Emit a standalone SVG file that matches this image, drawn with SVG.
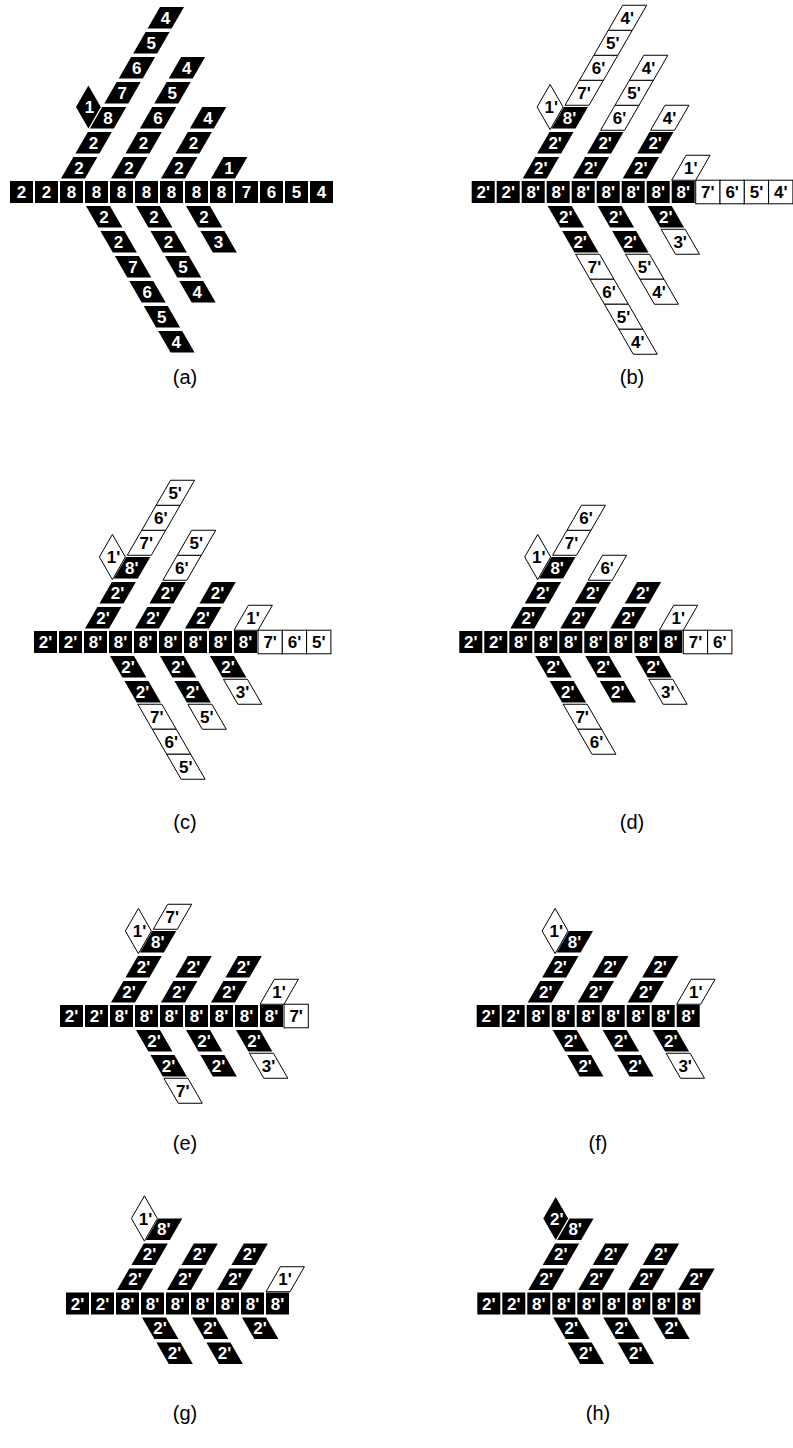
<svg xmlns="http://www.w3.org/2000/svg" width="793" height="1448" viewBox="0 0 793 1448">
<style>
text { font-family: "Liberation Sans", Arial, sans-serif; font-weight: bold; font-size: 17px; text-anchor: middle; }
.k use { fill: #000; }
.k text { fill: #fff; }
.w use { fill: #fff; stroke: #000; stroke-width: 1; }
.w text { fill: #000; }
.lbl { font-weight: normal; font-size: 20px; fill: #000; }
</style>
<defs>
  <!-- cells of the main row -->
  <rect id="sq" x="0" y="-11" width="23" height="22"/>
  <rect id="wsq" x="0" y="-11.8" width="24.3" height="23.6"/>
  <!-- branch cells: u = rising branch (anchor bottom-left), l = falling branch (anchor top-left) -->
  <polygon id="ub" points="0,0 24,0 36.4,-21.5 12.4,-21.5"/>
  <polygon id="uw" points="-1,1.75 23,1.75 37.4,-23.25 13.4,-23.25"/>
  <polygon id="lb" points="0,0 24,0 36.4,21.5 12.4,21.5"/>
  <polygon id="lw" points="-1,-1.75 23,-1.75 37.4,23.25 13.4,23.25"/>
  <!-- side diamond next to the third cell of the first rising branch -->
  <polygon id="db" points="78.4,-106.5 90.8,-85 78.4,-63.5 66,-85"/>
  <polygon id="dw" points="78.4,-107.6 91.4,-85 78.4,-62.4 65.4,-85"/>
</defs>

<!-- ===================== (a) ===================== -->
<g id="panel-a" transform="translate(10,192)">
  <g id="a-row">
    <g id="a-s0" class="k"><use href="#sq"/><text x="11.5" y="6.1">2</text></g>
    <g id="a-s1" class="k" transform="translate(25,0)"><use href="#sq"/><text x="11.5" y="6.1">2</text></g>
    <g id="a-s2" class="k" transform="translate(50,0)"><use href="#sq"/><text x="11.5" y="6.1">8</text></g>
    <g id="a-s3" class="k" transform="translate(75,0)"><use href="#sq"/><text x="11.5" y="6.1">8</text></g>
    <g id="a-s4" class="k" transform="translate(100,0)"><use href="#sq"/><text x="11.5" y="6.1">8</text></g>
    <g id="a-s5" class="k" transform="translate(125,0)"><use href="#sq"/><text x="11.5" y="6.1">8</text></g>
    <g id="a-s6" class="k" transform="translate(150,0)"><use href="#sq"/><text x="11.5" y="6.1">8</text></g>
    <g id="a-s7" class="k" transform="translate(175,0)"><use href="#sq"/><text x="11.5" y="6.1">8</text></g>
    <g id="a-s8" class="k" transform="translate(200,0)"><use href="#sq"/><text x="11.5" y="6.1">8</text></g>
    <g id="a-s9" class="k" transform="translate(225,0)"><use href="#sq"/><text x="11.5" y="6.1">7</text></g>
    <g id="a-s10" class="k" transform="translate(250,0)"><use href="#sq"/><text x="11.5" y="6.1">6</text></g>
    <g id="a-s11" class="k" transform="translate(275,0)"><use href="#sq"/><text x="11.5" y="6.1">5</text></g>
    <g id="a-s12" class="k" transform="translate(300,0)"><use href="#sq"/><text x="11.5" y="6.1">4</text></g>
  </g>
  <g id="a-u2" transform="translate(51,-13.5)">
    <g id="a-u2-0" class="k"><use href="#ub"/><text x="18" y="-4.65">2</text></g>
    <g id="a-u2-1" class="k" transform="translate(14.43,-25)"><use href="#ub"/><text x="18" y="-4.65">2</text></g>
    <g id="a-u2-2" class="k" transform="translate(28.87,-50)"><use href="#ub"/><text x="18" y="-4.65">8</text></g>
    <g id="a-u2-3" class="k" transform="translate(43.3,-75)"><use href="#ub"/><text x="18" y="-4.65">7</text></g>
    <g id="a-u2-4" class="k" transform="translate(57.74,-100)"><use href="#ub"/><text x="18" y="-4.65">6</text></g>
    <g id="a-u2-5" class="k" transform="translate(72.17,-125)"><use href="#ub"/><text x="18" y="-4.65">5</text></g>
    <g id="a-u2-6" class="k" transform="translate(86.6,-150)"><use href="#ub"/><text x="18" y="-4.65">4</text></g>
  </g>
  <g id="a-u4" transform="translate(101,-13.5)">
    <g id="a-u4-0" class="k"><use href="#ub"/><text x="18" y="-4.65">2</text></g>
    <g id="a-u4-1" class="k" transform="translate(14.43,-25)"><use href="#ub"/><text x="18" y="-4.65">2</text></g>
    <g id="a-u4-2" class="k" transform="translate(28.87,-50)"><use href="#ub"/><text x="18" y="-4.65">6</text></g>
    <g id="a-u4-3" class="k" transform="translate(43.3,-75)"><use href="#ub"/><text x="18" y="-4.65">5</text></g>
    <g id="a-u4-4" class="k" transform="translate(57.74,-100)"><use href="#ub"/><text x="18" y="-4.65">4</text></g>
  </g>
  <g id="a-u6" transform="translate(151,-13.5)">
    <g id="a-u6-0" class="k"><use href="#ub"/><text x="18" y="-4.65">2</text></g>
    <g id="a-u6-1" class="k" transform="translate(14.43,-25)"><use href="#ub"/><text x="18" y="-4.65">2</text></g>
    <g id="a-u6-2" class="k" transform="translate(28.87,-50)"><use href="#ub"/><text x="18" y="-4.65">4</text></g>
  </g>
  <g id="a-u8" transform="translate(201,-13.5)">
    <g id="a-u8-0" class="k"><use href="#ub"/><text x="18" y="-4.65">1</text></g>
  </g>
  <g id="a-l3" transform="translate(76,14)">
    <g id="a-l3-0" class="k"><use href="#lb"/><text x="18" y="16.85">2</text></g>
    <g id="a-l3-1" class="k" transform="translate(14.43,25)"><use href="#lb"/><text x="18" y="16.85">2</text></g>
    <g id="a-l3-2" class="k" transform="translate(28.87,50)"><use href="#lb"/><text x="18" y="16.85">7</text></g>
    <g id="a-l3-3" class="k" transform="translate(43.3,75)"><use href="#lb"/><text x="18" y="16.85">6</text></g>
    <g id="a-l3-4" class="k" transform="translate(57.74,100)"><use href="#lb"/><text x="18" y="16.85">5</text></g>
    <g id="a-l3-5" class="k" transform="translate(72.17,125)"><use href="#lb"/><text x="18" y="16.85">4</text></g>
  </g>
  <g id="a-l5" transform="translate(126,14)">
    <g id="a-l5-0" class="k"><use href="#lb"/><text x="18" y="16.85">2</text></g>
    <g id="a-l5-1" class="k" transform="translate(14.43,25)"><use href="#lb"/><text x="18" y="16.85">2</text></g>
    <g id="a-l5-2" class="k" transform="translate(28.87,50)"><use href="#lb"/><text x="18" y="16.85">5</text></g>
    <g id="a-l5-3" class="k" transform="translate(43.3,75)"><use href="#lb"/><text x="18" y="16.85">4</text></g>
  </g>
  <g id="a-l7" transform="translate(176,14)">
    <g id="a-l7-0" class="k"><use href="#lb"/><text x="18" y="16.85">2</text></g>
    <g id="a-l7-1" class="k" transform="translate(14.43,25)"><use href="#lb"/><text x="18" y="16.85">3</text></g>
  </g>
  <g id="a-d" class="k"><use href="#db"/><text x="79.5" y="-78.9">1</text></g>
</g>
<text class="lbl" x="185" y="384">(a)</text>

<!-- ===================== (b) ===================== -->
<g id="panel-b" transform="translate(471.7,192)">
  <g id="b-row">
    <g id="b-s0" class="k"><use href="#sq"/><text x="11.5" y="6.1">2'</text></g>
    <g id="b-s1" class="k" transform="translate(25,0)"><use href="#sq"/><text x="11.5" y="6.1">2'</text></g>
    <g id="b-s2" class="k" transform="translate(50,0)"><use href="#sq"/><text x="11.5" y="6.1">8'</text></g>
    <g id="b-s3" class="k" transform="translate(75,0)"><use href="#sq"/><text x="11.5" y="6.1">8'</text></g>
    <g id="b-s4" class="k" transform="translate(100,0)"><use href="#sq"/><text x="11.5" y="6.1">8'</text></g>
    <g id="b-s5" class="k" transform="translate(125,0)"><use href="#sq"/><text x="11.5" y="6.1">8'</text></g>
    <g id="b-s6" class="k" transform="translate(150,0)"><use href="#sq"/><text x="11.5" y="6.1">8'</text></g>
    <g id="b-s7" class="k" transform="translate(175,0)"><use href="#sq"/><text x="11.5" y="6.1">8'</text></g>
    <g id="b-s8" class="k" transform="translate(200,0)"><use href="#sq"/><text x="11.5" y="6.1">8'</text></g>
    <g id="b-s9" class="w" transform="translate(224,0)"><use href="#wsq"/><text x="12.15" y="6.1">7'</text></g>
    <g id="b-s10" class="w" transform="translate(248.3,0)"><use href="#wsq"/><text x="12.15" y="6.1">6'</text></g>
    <g id="b-s11" class="w" transform="translate(272.6,0)"><use href="#wsq"/><text x="12.15" y="6.1">5'</text></g>
    <g id="b-s12" class="w" transform="translate(296.9,0)"><use href="#wsq"/><text x="12.15" y="6.1">4'</text></g>
  </g>
  <g id="b-u2" transform="translate(51,-13.5)">
    <g id="b-u2-0" class="k"><use href="#ub"/><text x="18" y="-4.65">2'</text></g>
    <g id="b-u2-1" class="k" transform="translate(14.43,-25)"><use href="#ub"/><text x="18" y="-4.65">2'</text></g>
    <g id="b-u2-2" class="k" transform="translate(28.87,-50)"><use href="#ub"/><text x="18" y="-4.65">8'</text></g>
    <g id="b-u2-3" class="w" transform="translate(43.3,-75)"><use href="#uw"/><text x="18" y="-4.65">7'</text></g>
    <g id="b-u2-4" class="w" transform="translate(57.74,-100)"><use href="#uw"/><text x="18" y="-4.65">6'</text></g>
    <g id="b-u2-5" class="w" transform="translate(72.17,-125)"><use href="#uw"/><text x="18" y="-4.65">5'</text></g>
    <g id="b-u2-6" class="w" transform="translate(86.6,-150)"><use href="#uw"/><text x="18" y="-4.65">4'</text></g>
  </g>
  <g id="b-u4" transform="translate(101,-13.5)">
    <g id="b-u4-0" class="k"><use href="#ub"/><text x="18" y="-4.65">2'</text></g>
    <g id="b-u4-1" class="k" transform="translate(14.43,-25)"><use href="#ub"/><text x="18" y="-4.65">2'</text></g>
    <g id="b-u4-2" class="w" transform="translate(28.87,-50)"><use href="#uw"/><text x="18" y="-4.65">6'</text></g>
    <g id="b-u4-3" class="w" transform="translate(43.3,-75)"><use href="#uw"/><text x="18" y="-4.65">5'</text></g>
    <g id="b-u4-4" class="w" transform="translate(57.74,-100)"><use href="#uw"/><text x="18" y="-4.65">4'</text></g>
  </g>
  <g id="b-u6" transform="translate(151,-13.5)">
    <g id="b-u6-0" class="k"><use href="#ub"/><text x="18" y="-4.65">2'</text></g>
    <g id="b-u6-1" class="k" transform="translate(14.43,-25)"><use href="#ub"/><text x="18" y="-4.65">2'</text></g>
    <g id="b-u6-2" class="w" transform="translate(28.87,-50)"><use href="#uw"/><text x="18" y="-4.65">4'</text></g>
  </g>
  <g id="b-u8" transform="translate(201,-13.5)">
    <g id="b-u8-0" class="w"><use href="#uw"/><text x="18" y="-4.65">1'</text></g>
  </g>
  <g id="b-l3" transform="translate(76,14)">
    <g id="b-l3-0" class="k"><use href="#lb"/><text x="18" y="16.85">2'</text></g>
    <g id="b-l3-1" class="k" transform="translate(14.43,25)"><use href="#lb"/><text x="18" y="16.85">2'</text></g>
    <g id="b-l3-2" class="w" transform="translate(28.87,50)"><use href="#lw"/><text x="18" y="16.85">7'</text></g>
    <g id="b-l3-3" class="w" transform="translate(43.3,75)"><use href="#lw"/><text x="18" y="16.85">6'</text></g>
    <g id="b-l3-4" class="w" transform="translate(57.74,100)"><use href="#lw"/><text x="18" y="16.85">5'</text></g>
    <g id="b-l3-5" class="w" transform="translate(72.17,125)"><use href="#lw"/><text x="18" y="16.85">4'</text></g>
  </g>
  <g id="b-l5" transform="translate(126,14)">
    <g id="b-l5-0" class="k"><use href="#lb"/><text x="18" y="16.85">2'</text></g>
    <g id="b-l5-1" class="k" transform="translate(14.43,25)"><use href="#lb"/><text x="18" y="16.85">2'</text></g>
    <g id="b-l5-2" class="w" transform="translate(28.87,50)"><use href="#lw"/><text x="18" y="16.85">5'</text></g>
    <g id="b-l5-3" class="w" transform="translate(43.3,75)"><use href="#lw"/><text x="18" y="16.85">4'</text></g>
  </g>
  <g id="b-l7" transform="translate(176,14)">
    <g id="b-l7-0" class="k"><use href="#lb"/><text x="18" y="16.85">2'</text></g>
    <g id="b-l7-1" class="w" transform="translate(14.43,25)"><use href="#lw"/><text x="18" y="16.85">3'</text></g>
  </g>
  <g id="b-d" class="w"><use href="#dw"/><text x="79.5" y="-78.9">1'</text></g>
</g>
<text class="lbl" x="632" y="384">(b)</text>

<!-- ===================== (c) ===================== -->
<g id="panel-c" transform="translate(34,642)">
  <g id="c-row">
    <g id="c-s0" class="k"><use href="#sq"/><text x="11.5" y="6.1">2'</text></g>
    <g id="c-s1" class="k" transform="translate(25,0)"><use href="#sq"/><text x="11.5" y="6.1">2'</text></g>
    <g id="c-s2" class="k" transform="translate(50,0)"><use href="#sq"/><text x="11.5" y="6.1">8'</text></g>
    <g id="c-s3" class="k" transform="translate(75,0)"><use href="#sq"/><text x="11.5" y="6.1">8'</text></g>
    <g id="c-s4" class="k" transform="translate(100,0)"><use href="#sq"/><text x="11.5" y="6.1">8'</text></g>
    <g id="c-s5" class="k" transform="translate(125,0)"><use href="#sq"/><text x="11.5" y="6.1">8'</text></g>
    <g id="c-s6" class="k" transform="translate(150,0)"><use href="#sq"/><text x="11.5" y="6.1">8'</text></g>
    <g id="c-s7" class="k" transform="translate(175,0)"><use href="#sq"/><text x="11.5" y="6.1">8'</text></g>
    <g id="c-s8" class="k" transform="translate(200,0)"><use href="#sq"/><text x="11.5" y="6.1">8'</text></g>
    <g id="c-s9" class="w" transform="translate(224,0)"><use href="#wsq"/><text x="12.15" y="6.1">7'</text></g>
    <g id="c-s10" class="w" transform="translate(248.3,0)"><use href="#wsq"/><text x="12.15" y="6.1">6'</text></g>
    <g id="c-s11" class="w" transform="translate(272.6,0)"><use href="#wsq"/><text x="12.15" y="6.1">5'</text></g>
  </g>
  <g id="c-u2" transform="translate(51,-13.5)">
    <g id="c-u2-0" class="k"><use href="#ub"/><text x="18" y="-4.65">2'</text></g>
    <g id="c-u2-1" class="k" transform="translate(14.43,-25)"><use href="#ub"/><text x="18" y="-4.65">2'</text></g>
    <g id="c-u2-2" class="k" transform="translate(28.87,-50)"><use href="#ub"/><text x="18" y="-4.65">8'</text></g>
    <g id="c-u2-3" class="w" transform="translate(43.3,-75)"><use href="#uw"/><text x="18" y="-4.65">7'</text></g>
    <g id="c-u2-4" class="w" transform="translate(57.74,-100)"><use href="#uw"/><text x="18" y="-4.65">6'</text></g>
    <g id="c-u2-5" class="w" transform="translate(72.17,-125)"><use href="#uw"/><text x="18" y="-4.65">5'</text></g>
  </g>
  <g id="c-u4" transform="translate(101,-13.5)">
    <g id="c-u4-0" class="k"><use href="#ub"/><text x="18" y="-4.65">2'</text></g>
    <g id="c-u4-1" class="k" transform="translate(14.43,-25)"><use href="#ub"/><text x="18" y="-4.65">2'</text></g>
    <g id="c-u4-2" class="w" transform="translate(28.87,-50)"><use href="#uw"/><text x="18" y="-4.65">6'</text></g>
    <g id="c-u4-3" class="w" transform="translate(43.3,-75)"><use href="#uw"/><text x="18" y="-4.65">5'</text></g>
  </g>
  <g id="c-u6" transform="translate(151,-13.5)">
    <g id="c-u6-0" class="k"><use href="#ub"/><text x="18" y="-4.65">2'</text></g>
    <g id="c-u6-1" class="k" transform="translate(14.43,-25)"><use href="#ub"/><text x="18" y="-4.65">2'</text></g>
  </g>
  <g id="c-u8" transform="translate(201,-13.5)">
    <g id="c-u8-0" class="w"><use href="#uw"/><text x="18" y="-4.65">1'</text></g>
  </g>
  <g id="c-l3" transform="translate(76,14)">
    <g id="c-l3-0" class="k"><use href="#lb"/><text x="18" y="16.85">2'</text></g>
    <g id="c-l3-1" class="k" transform="translate(14.43,25)"><use href="#lb"/><text x="18" y="16.85">2'</text></g>
    <g id="c-l3-2" class="w" transform="translate(28.87,50)"><use href="#lw"/><text x="18" y="16.85">7'</text></g>
    <g id="c-l3-3" class="w" transform="translate(43.3,75)"><use href="#lw"/><text x="18" y="16.85">6'</text></g>
    <g id="c-l3-4" class="w" transform="translate(57.74,100)"><use href="#lw"/><text x="18" y="16.85">5'</text></g>
  </g>
  <g id="c-l5" transform="translate(126,14)">
    <g id="c-l5-0" class="k"><use href="#lb"/><text x="18" y="16.85">2'</text></g>
    <g id="c-l5-1" class="k" transform="translate(14.43,25)"><use href="#lb"/><text x="18" y="16.85">2'</text></g>
    <g id="c-l5-2" class="w" transform="translate(28.87,50)"><use href="#lw"/><text x="18" y="16.85">5'</text></g>
  </g>
  <g id="c-l7" transform="translate(176,14)">
    <g id="c-l7-0" class="k"><use href="#lb"/><text x="18" y="16.85">2'</text></g>
    <g id="c-l7-1" class="w" transform="translate(14.43,25)"><use href="#lw"/><text x="18" y="16.85">3'</text></g>
  </g>
  <g id="c-d" class="w"><use href="#dw"/><text x="79.5" y="-78.9">1'</text></g>
</g>
<text class="lbl" x="185" y="829">(c)</text>

<!-- ===================== (d) ===================== -->
<g id="panel-d" transform="translate(459.3,642)">
  <g id="d-row">
    <g id="d-s0" class="k"><use href="#sq"/><text x="11.5" y="6.1">2'</text></g>
    <g id="d-s1" class="k" transform="translate(25,0)"><use href="#sq"/><text x="11.5" y="6.1">2'</text></g>
    <g id="d-s2" class="k" transform="translate(50,0)"><use href="#sq"/><text x="11.5" y="6.1">8'</text></g>
    <g id="d-s3" class="k" transform="translate(75,0)"><use href="#sq"/><text x="11.5" y="6.1">8'</text></g>
    <g id="d-s4" class="k" transform="translate(100,0)"><use href="#sq"/><text x="11.5" y="6.1">8'</text></g>
    <g id="d-s5" class="k" transform="translate(125,0)"><use href="#sq"/><text x="11.5" y="6.1">8'</text></g>
    <g id="d-s6" class="k" transform="translate(150,0)"><use href="#sq"/><text x="11.5" y="6.1">8'</text></g>
    <g id="d-s7" class="k" transform="translate(175,0)"><use href="#sq"/><text x="11.5" y="6.1">8'</text></g>
    <g id="d-s8" class="k" transform="translate(200,0)"><use href="#sq"/><text x="11.5" y="6.1">8'</text></g>
    <g id="d-s9" class="w" transform="translate(224,0)"><use href="#wsq"/><text x="12.15" y="6.1">7'</text></g>
    <g id="d-s10" class="w" transform="translate(248.3,0)"><use href="#wsq"/><text x="12.15" y="6.1">6'</text></g>
  </g>
  <g id="d-u2" transform="translate(51,-13.5)">
    <g id="d-u2-0" class="k"><use href="#ub"/><text x="18" y="-4.65">2'</text></g>
    <g id="d-u2-1" class="k" transform="translate(14.43,-25)"><use href="#ub"/><text x="18" y="-4.65">2'</text></g>
    <g id="d-u2-2" class="k" transform="translate(28.87,-50)"><use href="#ub"/><text x="18" y="-4.65">8'</text></g>
    <g id="d-u2-3" class="w" transform="translate(43.3,-75)"><use href="#uw"/><text x="18" y="-4.65">7'</text></g>
    <g id="d-u2-4" class="w" transform="translate(57.74,-100)"><use href="#uw"/><text x="18" y="-4.65">6'</text></g>
  </g>
  <g id="d-u4" transform="translate(101,-13.5)">
    <g id="d-u4-0" class="k"><use href="#ub"/><text x="18" y="-4.65">2'</text></g>
    <g id="d-u4-1" class="k" transform="translate(14.43,-25)"><use href="#ub"/><text x="18" y="-4.65">2'</text></g>
    <g id="d-u4-2" class="w" transform="translate(28.87,-50)"><use href="#uw"/><text x="18" y="-4.65">6'</text></g>
  </g>
  <g id="d-u6" transform="translate(151,-13.5)">
    <g id="d-u6-0" class="k"><use href="#ub"/><text x="18" y="-4.65">2'</text></g>
    <g id="d-u6-1" class="k" transform="translate(14.43,-25)"><use href="#ub"/><text x="18" y="-4.65">2'</text></g>
  </g>
  <g id="d-u8" transform="translate(201,-13.5)">
    <g id="d-u8-0" class="w"><use href="#uw"/><text x="18" y="-4.65">1'</text></g>
  </g>
  <g id="d-l3" transform="translate(76,14)">
    <g id="d-l3-0" class="k"><use href="#lb"/><text x="18" y="16.85">2'</text></g>
    <g id="d-l3-1" class="k" transform="translate(14.43,25)"><use href="#lb"/><text x="18" y="16.85">2'</text></g>
    <g id="d-l3-2" class="w" transform="translate(28.87,50)"><use href="#lw"/><text x="18" y="16.85">7'</text></g>
    <g id="d-l3-3" class="w" transform="translate(43.3,75)"><use href="#lw"/><text x="18" y="16.85">6'</text></g>
  </g>
  <g id="d-l5" transform="translate(126,14)">
    <g id="d-l5-0" class="k"><use href="#lb"/><text x="18" y="16.85">2'</text></g>
    <g id="d-l5-1" class="k" transform="translate(14.43,25)"><use href="#lb"/><text x="18" y="16.85">2'</text></g>
  </g>
  <g id="d-l7" transform="translate(176,14)">
    <g id="d-l7-0" class="k"><use href="#lb"/><text x="18" y="16.85">2'</text></g>
    <g id="d-l7-1" class="w" transform="translate(14.43,25)"><use href="#lw"/><text x="18" y="16.85">3'</text></g>
  </g>
  <g id="d-d" class="w"><use href="#dw"/><text x="79.5" y="-78.9">1'</text></g>
</g>
<text class="lbl" x="632" y="829">(d)</text>

<!-- ===================== (e) ===================== -->
<g id="panel-e" transform="translate(60,1016)">
  <g id="e-row">
    <g id="e-s0" class="k"><use href="#sq"/><text x="11.5" y="6.1">2'</text></g>
    <g id="e-s1" class="k" transform="translate(25,0)"><use href="#sq"/><text x="11.5" y="6.1">2'</text></g>
    <g id="e-s2" class="k" transform="translate(50,0)"><use href="#sq"/><text x="11.5" y="6.1">8'</text></g>
    <g id="e-s3" class="k" transform="translate(75,0)"><use href="#sq"/><text x="11.5" y="6.1">8'</text></g>
    <g id="e-s4" class="k" transform="translate(100,0)"><use href="#sq"/><text x="11.5" y="6.1">8'</text></g>
    <g id="e-s5" class="k" transform="translate(125,0)"><use href="#sq"/><text x="11.5" y="6.1">8'</text></g>
    <g id="e-s6" class="k" transform="translate(150,0)"><use href="#sq"/><text x="11.5" y="6.1">8'</text></g>
    <g id="e-s7" class="k" transform="translate(175,0)"><use href="#sq"/><text x="11.5" y="6.1">8'</text></g>
    <g id="e-s8" class="k" transform="translate(200,0)"><use href="#sq"/><text x="11.5" y="6.1">8'</text></g>
    <g id="e-s9" class="w" transform="translate(224,0)"><use href="#wsq"/><text x="12.15" y="6.1">7'</text></g>
  </g>
  <g id="e-u2" transform="translate(51,-13.5)">
    <g id="e-u2-0" class="k"><use href="#ub"/><text x="18" y="-4.65">2'</text></g>
    <g id="e-u2-1" class="k" transform="translate(14.43,-25)"><use href="#ub"/><text x="18" y="-4.65">2'</text></g>
    <g id="e-u2-2" class="k" transform="translate(28.87,-50)"><use href="#ub"/><text x="18" y="-4.65">8'</text></g>
    <g id="e-u2-3" class="w" transform="translate(43.3,-75)"><use href="#uw"/><text x="18" y="-4.65">7'</text></g>
  </g>
  <g id="e-u4" transform="translate(101,-13.5)">
    <g id="e-u4-0" class="k"><use href="#ub"/><text x="18" y="-4.65">2'</text></g>
    <g id="e-u4-1" class="k" transform="translate(14.43,-25)"><use href="#ub"/><text x="18" y="-4.65">2'</text></g>
  </g>
  <g id="e-u6" transform="translate(151,-13.5)">
    <g id="e-u6-0" class="k"><use href="#ub"/><text x="18" y="-4.65">2'</text></g>
    <g id="e-u6-1" class="k" transform="translate(14.43,-25)"><use href="#ub"/><text x="18" y="-4.65">2'</text></g>
  </g>
  <g id="e-u8" transform="translate(201,-13.5)">
    <g id="e-u8-0" class="w"><use href="#uw"/><text x="18" y="-4.65">1'</text></g>
  </g>
  <g id="e-l3" transform="translate(76,14)">
    <g id="e-l3-0" class="k"><use href="#lb"/><text x="18" y="16.85">2'</text></g>
    <g id="e-l3-1" class="k" transform="translate(14.43,25)"><use href="#lb"/><text x="18" y="16.85">2'</text></g>
    <g id="e-l3-2" class="w" transform="translate(28.87,50)"><use href="#lw"/><text x="18" y="16.85">7'</text></g>
  </g>
  <g id="e-l5" transform="translate(126,14)">
    <g id="e-l5-0" class="k"><use href="#lb"/><text x="18" y="16.85">2'</text></g>
    <g id="e-l5-1" class="k" transform="translate(14.43,25)"><use href="#lb"/><text x="18" y="16.85">2'</text></g>
  </g>
  <g id="e-l7" transform="translate(176,14)">
    <g id="e-l7-0" class="k"><use href="#lb"/><text x="18" y="16.85">2'</text></g>
    <g id="e-l7-1" class="w" transform="translate(14.43,25)"><use href="#lw"/><text x="18" y="16.85">3'</text></g>
  </g>
  <g id="e-d" class="w"><use href="#dw"/><text x="79.5" y="-78.9">1'</text></g>
</g>
<text class="lbl" x="185" y="1150">(e)</text>

<!-- ===================== (f) ===================== -->
<g id="panel-f" transform="translate(476.7,1016)">
  <g id="f-row">
    <g id="f-s0" class="k"><use href="#sq"/><text x="11.5" y="6.1">2'</text></g>
    <g id="f-s1" class="k" transform="translate(25,0)"><use href="#sq"/><text x="11.5" y="6.1">2'</text></g>
    <g id="f-s2" class="k" transform="translate(50,0)"><use href="#sq"/><text x="11.5" y="6.1">8'</text></g>
    <g id="f-s3" class="k" transform="translate(75,0)"><use href="#sq"/><text x="11.5" y="6.1">8'</text></g>
    <g id="f-s4" class="k" transform="translate(100,0)"><use href="#sq"/><text x="11.5" y="6.1">8'</text></g>
    <g id="f-s5" class="k" transform="translate(125,0)"><use href="#sq"/><text x="11.5" y="6.1">8'</text></g>
    <g id="f-s6" class="k" transform="translate(150,0)"><use href="#sq"/><text x="11.5" y="6.1">8'</text></g>
    <g id="f-s7" class="k" transform="translate(175,0)"><use href="#sq"/><text x="11.5" y="6.1">8'</text></g>
    <g id="f-s8" class="k" transform="translate(200,0)"><use href="#sq"/><text x="11.5" y="6.1">8'</text></g>
  </g>
  <g id="f-u2" transform="translate(51,-13.5)">
    <g id="f-u2-0" class="k"><use href="#ub"/><text x="18" y="-4.65">2'</text></g>
    <g id="f-u2-1" class="k" transform="translate(14.43,-25)"><use href="#ub"/><text x="18" y="-4.65">2'</text></g>
    <g id="f-u2-2" class="k" transform="translate(28.87,-50)"><use href="#ub"/><text x="18" y="-4.65">8'</text></g>
  </g>
  <g id="f-u4" transform="translate(101,-13.5)">
    <g id="f-u4-0" class="k"><use href="#ub"/><text x="18" y="-4.65">2'</text></g>
    <g id="f-u4-1" class="k" transform="translate(14.43,-25)"><use href="#ub"/><text x="18" y="-4.65">2'</text></g>
  </g>
  <g id="f-u6" transform="translate(151,-13.5)">
    <g id="f-u6-0" class="k"><use href="#ub"/><text x="18" y="-4.65">2'</text></g>
    <g id="f-u6-1" class="k" transform="translate(14.43,-25)"><use href="#ub"/><text x="18" y="-4.65">2'</text></g>
  </g>
  <g id="f-u8" transform="translate(201,-13.5)">
    <g id="f-u8-0" class="w"><use href="#uw"/><text x="18" y="-4.65">1'</text></g>
  </g>
  <g id="f-l3" transform="translate(76,14)">
    <g id="f-l3-0" class="k"><use href="#lb"/><text x="18" y="16.85">2'</text></g>
    <g id="f-l3-1" class="k" transform="translate(14.43,25)"><use href="#lb"/><text x="18" y="16.85">2'</text></g>
  </g>
  <g id="f-l5" transform="translate(126,14)">
    <g id="f-l5-0" class="k"><use href="#lb"/><text x="18" y="16.85">2'</text></g>
    <g id="f-l5-1" class="k" transform="translate(14.43,25)"><use href="#lb"/><text x="18" y="16.85">2'</text></g>
  </g>
  <g id="f-l7" transform="translate(176,14)">
    <g id="f-l7-0" class="k"><use href="#lb"/><text x="18" y="16.85">2'</text></g>
    <g id="f-l7-1" class="w" transform="translate(14.43,25)"><use href="#lw"/><text x="18" y="16.85">3'</text></g>
  </g>
  <g id="f-d" class="w"><use href="#dw"/><text x="79.5" y="-78.9">1'</text></g>
</g>
<text class="lbl" x="598" y="1150">(f)</text>

<!-- ===================== (g) ===================== -->
<g id="panel-g" transform="translate(66,1303.5)">
  <g id="g-row">
    <g id="g-s0" class="k"><use href="#sq"/><text x="11.5" y="6.1">2'</text></g>
    <g id="g-s1" class="k" transform="translate(25,0)"><use href="#sq"/><text x="11.5" y="6.1">2'</text></g>
    <g id="g-s2" class="k" transform="translate(50,0)"><use href="#sq"/><text x="11.5" y="6.1">8'</text></g>
    <g id="g-s3" class="k" transform="translate(75,0)"><use href="#sq"/><text x="11.5" y="6.1">8'</text></g>
    <g id="g-s4" class="k" transform="translate(100,0)"><use href="#sq"/><text x="11.5" y="6.1">8'</text></g>
    <g id="g-s5" class="k" transform="translate(125,0)"><use href="#sq"/><text x="11.5" y="6.1">8'</text></g>
    <g id="g-s6" class="k" transform="translate(150,0)"><use href="#sq"/><text x="11.5" y="6.1">8'</text></g>
    <g id="g-s7" class="k" transform="translate(175,0)"><use href="#sq"/><text x="11.5" y="6.1">8'</text></g>
    <g id="g-s8" class="k" transform="translate(200,0)"><use href="#sq"/><text x="11.5" y="6.1">8'</text></g>
  </g>
  <g id="g-u2" transform="translate(51,-13.5)">
    <g id="g-u2-0" class="k"><use href="#ub"/><text x="18" y="-4.65">2'</text></g>
    <g id="g-u2-1" class="k" transform="translate(14.43,-25)"><use href="#ub"/><text x="18" y="-4.65">2'</text></g>
    <g id="g-u2-2" class="k" transform="translate(28.87,-50)"><use href="#ub"/><text x="18" y="-4.65">8'</text></g>
  </g>
  <g id="g-u4" transform="translate(101,-13.5)">
    <g id="g-u4-0" class="k"><use href="#ub"/><text x="18" y="-4.65">2'</text></g>
    <g id="g-u4-1" class="k" transform="translate(14.43,-25)"><use href="#ub"/><text x="18" y="-4.65">2'</text></g>
  </g>
  <g id="g-u6" transform="translate(151,-13.5)">
    <g id="g-u6-0" class="k"><use href="#ub"/><text x="18" y="-4.65">2'</text></g>
    <g id="g-u6-1" class="k" transform="translate(14.43,-25)"><use href="#ub"/><text x="18" y="-4.65">2'</text></g>
  </g>
  <g id="g-u8" transform="translate(201,-13.5)">
    <g id="g-u8-0" class="w"><use href="#uw"/><text x="18" y="-4.65">1'</text></g>
  </g>
  <g id="g-l3" transform="translate(76,14)">
    <g id="g-l3-0" class="k"><use href="#lb"/><text x="18" y="16.85">2'</text></g>
    <g id="g-l3-1" class="k" transform="translate(14.43,25)"><use href="#lb"/><text x="18" y="16.85">2'</text></g>
  </g>
  <g id="g-l5" transform="translate(126,14)">
    <g id="g-l5-0" class="k"><use href="#lb"/><text x="18" y="16.85">2'</text></g>
    <g id="g-l5-1" class="k" transform="translate(14.43,25)"><use href="#lb"/><text x="18" y="16.85">2'</text></g>
  </g>
  <g id="g-l7" transform="translate(176,14)">
    <g id="g-l7-0" class="k"><use href="#lb"/><text x="18" y="16.85">2'</text></g>
  </g>
  <g id="g-d" class="w"><use href="#dw"/><text x="79.5" y="-78.9">1'</text></g>
</g>
<text class="lbl" x="185" y="1420">(g)</text>

<!-- ===================== (h) ===================== -->
<g id="panel-h" transform="translate(477.3,1303.5)">
  <g id="h-row">
    <g id="h-s0" class="k"><use href="#sq"/><text x="11.5" y="6.1">2'</text></g>
    <g id="h-s1" class="k" transform="translate(25,0)"><use href="#sq"/><text x="11.5" y="6.1">2'</text></g>
    <g id="h-s2" class="k" transform="translate(50,0)"><use href="#sq"/><text x="11.5" y="6.1">8'</text></g>
    <g id="h-s3" class="k" transform="translate(75,0)"><use href="#sq"/><text x="11.5" y="6.1">8'</text></g>
    <g id="h-s4" class="k" transform="translate(100,0)"><use href="#sq"/><text x="11.5" y="6.1">8'</text></g>
    <g id="h-s5" class="k" transform="translate(125,0)"><use href="#sq"/><text x="11.5" y="6.1">8'</text></g>
    <g id="h-s6" class="k" transform="translate(150,0)"><use href="#sq"/><text x="11.5" y="6.1">8'</text></g>
    <g id="h-s7" class="k" transform="translate(175,0)"><use href="#sq"/><text x="11.5" y="6.1">8'</text></g>
    <g id="h-s8" class="k" transform="translate(200,0)"><use href="#sq"/><text x="11.5" y="6.1">8'</text></g>
  </g>
  <g id="h-u2" transform="translate(51,-13.5)">
    <g id="h-u2-0" class="k"><use href="#ub"/><text x="18" y="-4.65">2'</text></g>
    <g id="h-u2-1" class="k" transform="translate(14.43,-25)"><use href="#ub"/><text x="18" y="-4.65">2'</text></g>
    <g id="h-u2-2" class="k" transform="translate(28.87,-50)"><use href="#ub"/><text x="18" y="-4.65">8'</text></g>
  </g>
  <g id="h-u4" transform="translate(101,-13.5)">
    <g id="h-u4-0" class="k"><use href="#ub"/><text x="18" y="-4.65">2'</text></g>
    <g id="h-u4-1" class="k" transform="translate(14.43,-25)"><use href="#ub"/><text x="18" y="-4.65">2'</text></g>
  </g>
  <g id="h-u6" transform="translate(151,-13.5)">
    <g id="h-u6-0" class="k"><use href="#ub"/><text x="18" y="-4.65">2'</text></g>
    <g id="h-u6-1" class="k" transform="translate(14.43,-25)"><use href="#ub"/><text x="18" y="-4.65">2'</text></g>
  </g>
  <g id="h-u8" transform="translate(201,-13.5)">
    <g id="h-u8-0" class="k"><use href="#ub"/><text x="18" y="-4.65">2'</text></g>
  </g>
  <g id="h-l3" transform="translate(76,14)">
    <g id="h-l3-0" class="k"><use href="#lb"/><text x="18" y="16.85">2'</text></g>
    <g id="h-l3-1" class="k" transform="translate(14.43,25)"><use href="#lb"/><text x="18" y="16.85">2'</text></g>
  </g>
  <g id="h-l5" transform="translate(126,14)">
    <g id="h-l5-0" class="k"><use href="#lb"/><text x="18" y="16.85">2'</text></g>
    <g id="h-l5-1" class="k" transform="translate(14.43,25)"><use href="#lb"/><text x="18" y="16.85">2'</text></g>
  </g>
  <g id="h-l7" transform="translate(176,14)">
    <g id="h-l7-0" class="k"><use href="#lb"/><text x="18" y="16.85">2'</text></g>
  </g>
  <g id="h-d" class="k"><use href="#db"/><text x="79.5" y="-78.9">2'</text></g>
</g>
<text class="lbl" x="598" y="1420">(h)</text>
</svg>
